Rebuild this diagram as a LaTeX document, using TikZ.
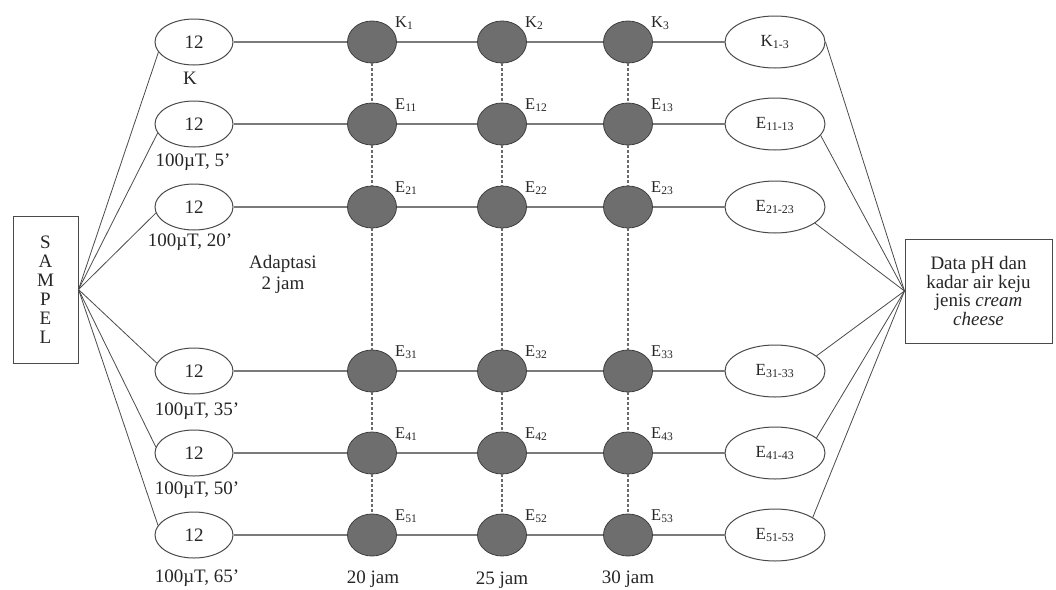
\documentclass[tikz,border=0pt]{standalone}
\usepackage{fontspec}
\setmainfont{Liberation Serif}
\usetikzlibrary{shapes.geometric}
\definecolor{inkgray}{HTML}{4A4A4A}
\definecolor{linegray}{HTML}{7A7A7A}
\definecolor{dotfill}{HTML}{6E6E6E}
\definecolor{dotedge}{HTML}{3E3E3E}
\definecolor{dashgray}{HTML}{6A6A6A}
\begin{document}
\begin{tikzpicture}[x=1pt,y=-1pt,
  font=\fontsize{19}{19}\selectfont, text=black!85,
  group/.style={ellipse, draw=inkgray, line width=1pt, fill=white,
    minimum width=78pt, minimum height=46pt, inner sep=0pt},
  result/.style={ellipse, draw=inkgray, line width=1pt, fill=white,
    minimum width=100pt, minimum height=52pt, inner sep=0pt,
    font=\fontsize{17}{19}\selectfont},
  dot/.style={ellipse, fill=dotfill, draw=dotedge, line width=0.8pt,
    minimum width=49pt, minimum height=42pt, inner sep=0pt},
  tag/.style={anchor=west, inner sep=0pt, font=\fontsize{16.5}{18}\selectfont},
  caption/.style={inner sep=0pt},
  sidebox/.style={draw=inkgray, line width=1pt, fill=white, inner sep=0pt, align=center},
  timeline/.style={draw=linegray, line width=1.5pt},
  fan/.style={draw=inkgray, line width=0.8pt},
  vlink/.style={draw=dashgray, line width=1.1pt, dash pattern=on 3pt off 2pt}]
\useasboundingbox (0,0) rectangle (1056,589);

% input and output boxes
\node[sidebox, minimum width=65pt, minimum height=147pt] (sampel) at (45.5,289.5)
  {S\\A\\M\\P\\E\\L};
\node[sidebox, minimum width=147pt, minimum height=104pt,
  font=\fontsize{19}{18.5}\selectfont] (data) at (978.5,291)
  {Data pH dan\\kadar air keju\\jenis \textit{cream}\\\textit{cheese}};

% treatment rows: start group, three sampling points, pooled result
\foreach \r/\y/\pre/\i/\res/\under/\ux/\uy/\la/\ra in {
  1/42/K/0/{K\textsubscript{1-3}}/K/190/78/196/0,
  2/124/E/1/{E\textsubscript{11-13}}/{100µT, 5'}/193/162/194/-14,
  3/207/E/2/{E\textsubscript{21-23}}/{100µT, 20'}/190/242/189/-22,
  4/371/E/3/{E\textsubscript{31-33}}/{100µT, 35'}/197/411/168/20,
  5/453/E/4/{E\textsubscript{41-43}}/{100µT, 50'}/197/490/171/20,
  6/535/E/5/{E\textsubscript{51-53}}/{100µT, 65'}/197/578/165/25}{
  \node[group] (g\r) at (194,\y) {12};
  \node[caption] (u\r) at (\ux,\uy) {\under};
  \node[result] (res\r) at (775,\y) {\res};
  \foreach \c/\x in {1/372,2/502,3/628}{
    \node[dot] (c\r\c) at (\x,\y) {};
    \node[tag] (t\r\c) at ([shift={(23,-19)}]c\r\c.center)
      {\pre\textsubscript{\ifnum\i=0 \else\i\fi\c}};
  }
  \draw[timeline] (g\r) -- (c\r1) -- (c\r2) -- (c\r3) -- (res\r);
  \draw[fan] (sampel.east) -- (g\r.\la);
  \draw[fan] (res\r.\ra) -- (data.west);
}

% same sampling time links down each column
\foreach \c in {1,2,3}{
  \foreach \a/\b in {1/2,2/3,3/4,4/5,5/6}{
    \draw[vlink] (c\a\c) -- (c\b\c);
  }
}

% adaptation note and sampling times
\node[caption, align=center, font=\fontsize{19}{21}\selectfont] (adapt) at (283,274)
  {Adaptasi\\2 jam};
\node[caption] (h20) at (373,579) {20 jam};
\node[caption] (h25) at (502,580) {25 jam};
\node[caption] (h30) at (628,579) {30 jam};
\end{tikzpicture}
\end{document}
